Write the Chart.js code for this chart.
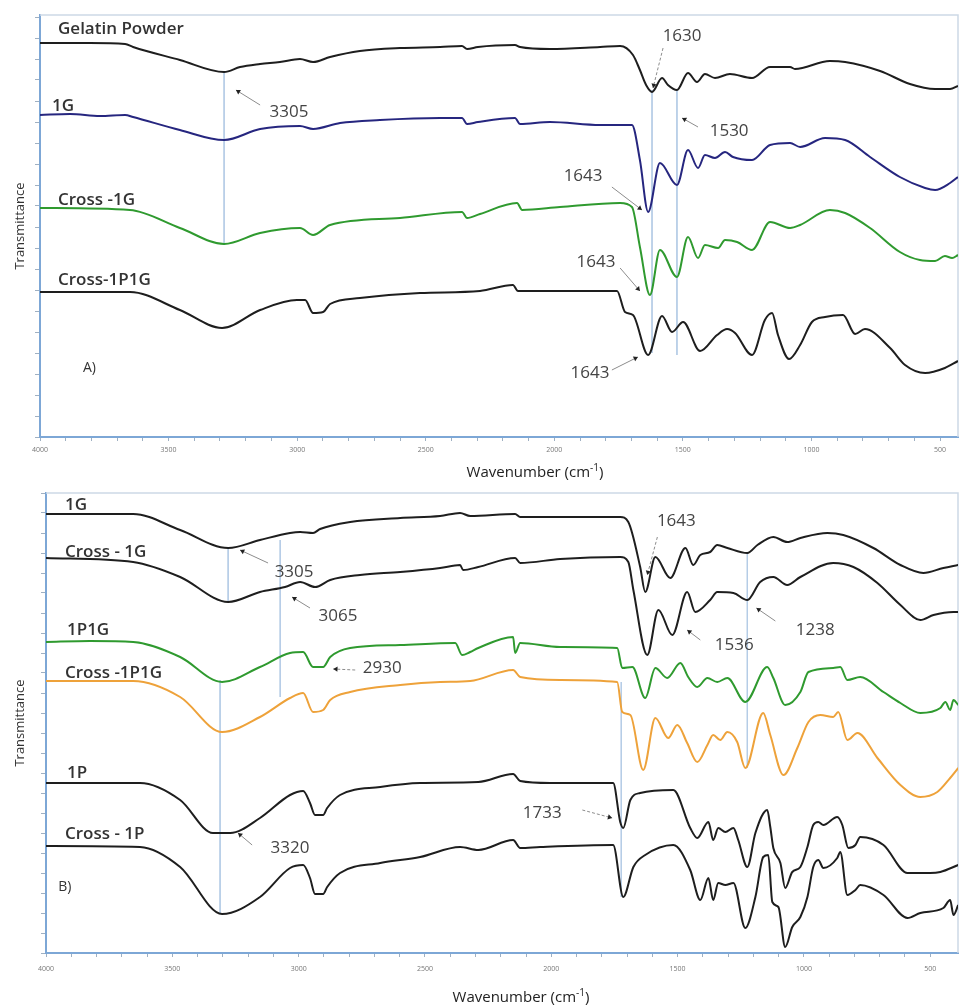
<!DOCTYPE html>
<html>
<head>
<meta charset="utf-8">
<script src="https://cdn.jsdelivr.net/npm/chart.js@4.4.0/dist/chart.umd.min.js"></script>
<style>
  body { margin: 0; background: #fff; }
  .panel { position: absolute; left: 0; width: 960px; }
  #panelA { top: 0; height: 485px; }
  #panelB { top: 485px; height: 522px; }
</style>
</head>
<body>
<div class="panel" id="panelA"><canvas id="chartA" width="960" height="485"></canvas></div>
<div class="panel" id="panelB"><canvas id="chartB" width="960" height="522"></canvas></div>
<script>
// tick labels (cm-1)
const xTickLabels = [4000, 3500, 3000, 2500, 2000, 1500, 1000, 500];

// ---- panel A spectra (wavenumber, transmittance a.u.) ----
const aGelatinWn = [4000, 3806, 3669, 3638, 3456, 3284, 3222, 3144, 3067, 2989, 2938, 2872, 2756, 2600, 2444, 2359, 2339, 2297, 2153, 2133, 2017, 1822, 1744, 1694, 1667, 1643, 1620, 1581, 1558, 1523, 1480, 1445, 1414, 1375, 1317, 1231, 1161, 1083, 1064, 928, 869, 733, 617, 519, 461, 430];
const aGelatinT = [39.4, 39.4, 39.3, 39.0, 37.7, 36.5, 37.0, 37.3, 37.5, 37.8, 37.5, 38.0, 38.6, 38.9, 39.0, 39.1, 38.8, 39.0, 39.2, 39.0, 38.8, 39.0, 39.1, 38.2, 36.7, 35.2, 34.5, 35.9, 35.2, 34.7, 36.4, 35.5, 36.3, 35.9, 36.3, 35.9, 37.0, 37.0, 36.8, 37.6, 37.5, 36.6, 35.3, 34.8, 34.8, 35.1];

const a1GWn = [4000, 3883, 3767, 3669, 3638, 3456, 3284, 3144, 2989, 2938, 2833, 2678, 2444, 2359, 2339, 2297, 2153, 2133, 2017, 1822, 1698, 1667, 1635, 1589, 1523, 1480, 1441, 1414, 1375, 1336, 1305, 1231, 1161, 1083, 1044, 947, 869, 772, 656, 558, 519, 461, 430];
const a1GT = [32.2, 32.3, 32.1, 32.2, 32.0, 30.7, 29.7, 30.8, 31.1, 30.8, 31.4, 31.7, 31.9, 31.9, 31.3, 31.5, 31.9, 31.3, 31.5, 31.2, 31.2, 27.7, 22.5, 27.4, 25.2, 28.7, 26.9, 28.2, 27.9, 28.5, 28.0, 27.7, 29.2, 29.4, 29.0, 29.9, 29.7, 28.0, 26.0, 24.9, 24.7, 25.4, 26.0];

const aCross1GWn = [4000, 3650, 3456, 3284, 3144, 2989, 2938, 2872, 2600, 2359, 2339, 2289, 2145, 2125, 1978, 1744, 1698, 1667, 1628, 1589, 1523, 1480, 1441, 1414, 1363, 1336, 1289, 1231, 1161, 1083, 1044, 928, 869, 772, 656, 578, 519, 481, 453, 430];
const aCross1GT = [22.9, 22.7, 20.9, 19.3, 20.4, 20.9, 20.2, 21.2, 21.9, 22.5, 21.9, 22.3, 23.4, 22.7, 23.0, 23.4, 23.0, 19.0, 14.2, 18.7, 16.0, 20.0, 17.9, 19.2, 18.9, 19.7, 19.5, 18.7, 21.5, 20.9, 21.2, 22.7, 22.4, 20.9, 18.5, 17.7, 17.6, 18.1, 17.9, 18.2];

const aCross1P1GWn = [4000, 3650, 3456, 3292, 3144, 3001, 2969, 2938, 2899, 2872, 2756, 2522, 2289, 2161, 2141, 2017, 1756, 1725, 1694, 1635, 1581, 1542, 1499, 1433, 1367, 1328, 1297, 1231, 1181, 1153, 1130, 1087, 1044, 998, 947, 877, 830, 792, 694, 636, 558, 481, 430];
const aCross1P1GT = [14.5, 14.5, 12.7, 10.9, 12.7, 13.7, 13.7, 12.4, 12.5, 13.3, 13.9, 14.4, 14.6, 15.2, 14.6, 14.6, 14.6, 12.5, 12.2, 8.2, 12.1, 10.5, 11.5, 8.6, 10.2, 10.8, 10.4, 8.2, 11.7, 12.4, 10.2, 7.8, 9.2, 11.5, 12.0, 12.2, 10.3, 10.8, 8.9, 7.2, 6.4, 6.9, 7.6];

// panel A marker lines
const guideAWn = [3284, 1620, 1523];
const guideATop = [36.5, 34.7, 34.7];
const guideABottom = [19.2, 8.4, 8.2];

// ---- panel B spectra ----
const b1GWn = [4000, 3826, 3655, 3469, 3279, 3153, 3034, 2994, 2943, 2915, 2796, 2598, 2440, 2361, 2321, 2143, 2123, 1965, 1727, 1695, 1648, 1628, 1588, 1529, 1469, 1438, 1410, 1371, 1343, 1303, 1224, 1184, 1121, 1066, 1014, 907, 844, 725, 618, 527, 448, 389];
const b1GT = [43.9, 43.9, 43.9, 42.3, 40.5, 41.3, 42.0, 42.1, 42.0, 42.4, 43.1, 43.5, 43.7, 44.0, 43.7, 43.9, 43.6, 43.6, 43.6, 43.1, 38.6, 36.1, 39.6, 37.5, 40.5, 38.8, 39.8, 40.1, 40.8, 40.5, 40.0, 40.8, 41.6, 41.1, 41.5, 42.0, 41.8, 40.5, 38.8, 38.0, 38.5, 38.8];

const bCross1GWn = [4000, 3655, 3469, 3279, 3153, 3054, 2994, 2935, 2875, 2757, 2598, 2440, 2361, 2349, 2289, 2143, 2123, 1965, 1727, 1695, 1675, 1620, 1576, 1521, 1462, 1430, 1371, 1343, 1279, 1224, 1173, 1121, 1066, 1014, 884, 804, 709, 618, 539, 487, 408, 389];
const bCross1GT = [39.5, 39.1, 37.6, 35.1, 36.1, 36.6, 37.1, 36.6, 37.3, 37.8, 38.1, 38.5, 38.8, 38.3, 38.6, 39.5, 39.0, 39.4, 39.6, 39.1, 36.3, 29.8, 34.3, 31.8, 36.1, 34.1, 35.3, 36.1, 36.0, 35.3, 37.1, 37.6, 36.8, 37.6, 39.0, 38.6, 37.0, 34.8, 33.3, 33.8, 34.1, 34.1];

const b1P1GWn = [4000, 3826, 3655, 3469, 3303, 3153, 3034, 2982, 2943, 2903, 2875, 2796, 2598, 2380, 2353, 2321, 2289, 2151, 2143, 2123, 1965, 1739, 1719, 1679, 1628, 1588, 1541, 1489, 1458, 1422, 1382, 1343, 1303, 1232, 1145, 1121, 1074, 1014, 982, 884, 856, 828, 777, 685, 618, 539, 460, 440, 421, 408, 389];
const b1P1GT = [31.1, 31.2, 31.1, 29.6, 27.1, 28.6, 30.0, 30.1, 28.6, 28.6, 29.6, 30.5, 30.8, 31.0, 29.8, 30.1, 30.5, 31.6, 30.0, 31.0, 30.6, 30.5, 28.5, 28.6, 25.5, 28.5, 27.5, 29.0, 27.6, 26.6, 27.5, 27.1, 27.5, 25.1, 28.6, 27.5, 24.8, 26.1, 28.1, 28.5, 28.6, 27.3, 27.6, 26.1, 25.0, 24.0, 24.5, 25.1, 24.3, 25.3, 24.8];

const bCross1P1GWn = [4000, 3655, 3469, 3303, 3153, 3034, 2982, 2943, 2903, 2875, 2796, 2598, 2440, 2321, 2151, 2123, 1965, 1739, 1719, 1687, 1636, 1588, 1537, 1501, 1462, 1422, 1382, 1359, 1331, 1303, 1264, 1232, 1161, 1133, 1081, 1026, 982, 935, 884, 864, 828, 788, 709, 618, 539, 472, 421, 389];
const bCross1P1GT = [27.2, 27.2, 25.6, 22.1, 23.6, 25.5, 26.0, 24.1, 24.3, 25.3, 26.1, 26.8, 27.1, 27.2, 28.3, 27.6, 27.3, 27.1, 24.1, 23.8, 18.3, 23.5, 21.5, 22.8, 21.0, 19.1, 20.8, 21.8, 21.3, 22.1, 21.1, 18.5, 24.0, 21.8, 17.8, 20.5, 23.1, 23.8, 23.6, 24.1, 21.3, 22.0, 19.5, 16.8, 15.6, 16.1, 17.5, 18.5];

const b1PWn = [4000, 3628, 3469, 3339, 3271, 3153, 3034, 2982, 2955, 2935, 2903, 2887, 2836, 2677, 2519, 2289, 2151, 2123, 2004, 1755, 1727, 1715, 1687, 1648, 1517, 1450, 1422, 1378, 1359, 1339, 1311, 1279, 1260, 1224, 1192, 1145, 1133, 1121, 1093, 1074, 1046, 1014, 986, 963, 943, 923, 868, 848, 824, 796, 777, 685, 590, 500, 460, 389];
const b1PT = [17.0, 17.0, 15.3, 12.0, 12.0, 13.5, 15.8, 16.2, 15.0, 13.8, 13.8, 14.5, 15.8, 16.6, 17.0, 17.1, 17.9, 17.2, 17.0, 17.0, 13.1, 12.5, 15.3, 16.0, 16.3, 12.5, 11.5, 13.1, 11.3, 12.5, 12.1, 12.5, 11.3, 8.6, 12.0, 14.3, 12.6, 10.5, 9.0, 6.5, 8.1, 8.6, 10.6, 12.8, 13.1, 12.8, 13.6, 12.8, 10.5, 10.8, 11.6, 10.8, 8.0, 8.0, 8.1, 8.8];

const bCross1PWn = [4000, 3628, 3469, 3303, 3153, 3034, 2982, 2955, 2935, 2903, 2887, 2836, 2677, 2519, 2361, 2289, 2151, 2123, 2044, 1755, 1715, 1675, 1628, 1517, 1450, 1410, 1378, 1359, 1339, 1311, 1279, 1232, 1192, 1161, 1141, 1125, 1101, 1074, 1046, 1014, 986, 963, 943, 923, 868, 856, 828, 796, 777, 685, 590, 539, 448, 421, 408, 389];
const bCross1PT = [10.7, 10.6, 8.6, 3.9, 5.6, 8.5, 8.8, 7.5, 5.9, 5.9, 6.6, 8.0, 9.0, 9.6, 10.6, 10.3, 11.3, 10.5, 10.6, 10.8, 5.6, 8.6, 9.8, 10.8, 8.3, 5.3, 7.5, 5.3, 7.0, 6.8, 7.0, 2.5, 5.6, 9.6, 9.8, 5.1, 4.6, 0.6, 2.6, 3.6, 5.6, 8.6, 9.3, 8.5, 9.5, 10.1, 5.8, 6.3, 6.8, 5.8, 3.5, 4.0, 4.5, 5.3, 3.8, 4.8];

// panel B marker lines
const guideBWn = [3279, 3311, 3073, 1723, 1224];
const guideBTop = [40.5, 27.3, 41.3, 27.1, 40.0];
const guideBBottom = [35.1, 4.0, 25.6, 5.6, 18.5];

// ---- text on the plots: [text, wavenumber, value] ----
const namesA = [['Gelatin Powder', 3930, 40.8], ['1G', 3953, 33.1], ['Cross -1G', 3930, 23.7], ['Cross-1P1G', 3930, 15.7]];
const peaksA = [['3305', 3032, 32.5], ['1630', 1503, 40.1], ['1530', 1320, 30.6], ['1643', 1888, 26.1], ['1643', 1838, 17.5], ['1643', 1861, 6.4]];
const arrowsA = [[3144, 33.2, 3238, 34.7, false], [1577, 38.9, 1616, 34.9, true], [1441, 31.0, 1503, 31.9, false],
                 [1776, 25.0, 1659, 22.7, false], [1744, 16.9, 1667, 14.6, false], [1776, 6.7, 1675, 8.0, false]];

const namesB = [['1G', 3925, 44.8], ['Cross - 1G', 3925, 40.1], ['1P1G', 3917, 32.3], ['Cross -1P1G', 3925, 28.0], ['1P', 3917, 18.0], ['Cross - 1P', 3925, 11.9]];
const peaksB = [['3305', 3018, 38.1], ['3065', 2844, 33.7], ['2930', 2669, 28.5], ['1643', 1505, 43.2], ['1536', 1276, 30.8],
                ['1238', 955, 32.3], ['3320', 3034, 10.5], ['1733', 2036, 14.0]];
const arrowsB = [[3121, 39.0, 3232, 40.3, false], [2955, 34.5, 3026, 35.6, false], [2776, 28.3, 2863, 28.4, true], [1580, 41.6, 1620, 37.8, true],
                 [1410, 31.3, 1462, 32.3, false], [1113, 33.2, 1188, 34.5, false], [3184, 10.8, 3240, 12.0, false], [1877, 14.3, 1759, 13.5, true]];

const FONT = "'Open Sans', 'DejaVu Sans', sans-serif";
const BLACK = '#1e1e1e';
const NAVY = '#26267f';
const GREEN = '#2f9a2f';
const ORANGE = '#eea23a';
const AXIS_BLUE = '#7da7d6';
const GUIDE_BLUE = '#b5cce6';

const xMinorTicks = [];
for (let v = 4000; v >= 500; v -= 100) xMinorTicks.push(v);

const trace = (label, wn, t, color) => ({
    label,
    data: wn.map((x, i) => ({ x, y: t[i] })),
    borderColor: color,
    borderWidth: 2,
    pointRadius: 0,
    cubicInterpolationMode: 'monotone',
    fill: false
});

const guides = (wn, top, bottom) => wn.map((x, i) => ({
    label: 'guide',
    data: [{ x, y: top[i] }, { x, y: bottom[i] }],
    borderColor: GUIDE_BLUE,
    borderWidth: 1,
    pointRadius: 0,
    fill: false
}));

const drawArrow = (ctx, x1, y1, x2, y2, dashed) => {
    ctx.save();
    ctx.strokeStyle = '#8c8c8c';
    ctx.lineWidth = 1;
    ctx.setLineDash(dashed ? [3, 2] : []);
    ctx.beginPath();
    ctx.moveTo(x1, y1);
    ctx.lineTo(x2, y2);
    ctx.stroke();
    const a = Math.atan2(y2 - y1, x2 - x1);
    ctx.setLineDash([]);
    ctx.fillStyle = '#222';
    ctx.beginPath();
    ctx.moveTo(x2, y2);
    ctx.lineTo(x2 - 5 * Math.cos(a - 0.55), y2 - 5 * Math.sin(a - 0.55));
    ctx.lineTo(x2 - 5 * Math.cos(a + 0.55), y2 - 5 * Math.sin(a + 0.55));
    ctx.closePath();
    ctx.fill();
    ctx.restore();
};

const notesPlugin = {
    id: 'notes',
    beforeDatasetsDraw(chart) {
        const { ctx, chartArea: c } = chart;
        ctx.save();
        ctx.strokeStyle = '#cdd9e6';
        ctx.lineWidth = 1.5;
        ctx.beginPath();
        ctx.moveTo(c.left, c.top);
        ctx.lineTo(c.right, c.top);
        ctx.lineTo(c.right, c.bottom);
        ctx.stroke();
        ctx.restore();
    },
    afterDraw(chart, args, opts) {
        const { ctx, chartArea: c, scales: { x, y } } = chart;
        ctx.save();
        ctx.textBaseline = 'middle';

        ctx.fillStyle = '#333';
        ctx.font = `600 17px ${FONT}`;
        ctx.textAlign = 'left';
        opts.names.forEach(([t, wn, v]) => ctx.fillText(t, x.getPixelForValue(wn), y.getPixelForValue(v)));

        ctx.font = `14px ${FONT}`;
        ctx.fillText(opts.tag[0], x.getPixelForValue(opts.tag[1]), y.getPixelForValue(opts.tag[2]));

        ctx.fillStyle = '#444';
        ctx.font = `17px ${FONT}`;
        ctx.textAlign = 'center';
        opts.peaks.forEach(([t, wn, v]) => ctx.fillText(t, x.getPixelForValue(wn), y.getPixelForValue(v)));

        opts.arrows.forEach(([w1, v1, w2, v2, dashed]) =>
            drawArrow(ctx, x.getPixelForValue(w1), y.getPixelForValue(v1), x.getPixelForValue(w2), y.getPixelForValue(v2), dashed));

        // x axis title with superscript
        const tx = c.left + opts.titleDx;
        const ty = c.bottom + opts.titleDy;
        ctx.fillStyle = '#222';
        ctx.textAlign = 'left';
        ctx.font = `15px ${FONT}`;
        const main = 'Wavenumber (cm';
        const sup = '-1';
        const wMain = ctx.measureText(main).width;
        ctx.font = `10px ${FONT}`;
        const wSup = ctx.measureText(sup).width;
        ctx.font = `15px ${FONT}`;
        const wEnd = ctx.measureText(')').width;
        const start = tx - (wMain + wSup + wEnd) / 2;
        ctx.fillText(main, start, ty);
        ctx.font = `10px ${FONT}`;
        ctx.fillText(sup, start + wMain, ty - 5);
        ctx.font = `15px ${FONT}`;
        ctx.fillText(')', start + wMain + wSup, ty);
        ctx.restore();
    }
};

const makeChart = (id, cfg) => new Chart(document.getElementById(id), {
    type: 'line',
    data: { datasets: cfg.datasets },
    options: {
        responsive: false,
        animation: false,
        layout: { padding: cfg.padding },
        plugins: {
            legend: { display: false },
            tooltip: { enabled: false },
            notes: cfg.notes
        },
        scales: {
            x: {
                type: 'linear',
                reverse: true,
                min: cfg.xMin,
                max: 4000,
                afterFit: (s) => { s.height = cfg.xHeight; },
                afterBuildTicks: (s) => { s.ticks = xMinorTicks.map(v => ({ value: v })); },
                ticks: {
                    autoSkip: false,
                    maxRotation: 0,
                    padding: cfg.tickPad,
                    color: '#777',
                    font: { family: FONT, size: 7 },
                    callback: (v) => (xTickLabels.includes(v) ? String(v) : '')
                },
                grid: { drawOnChartArea: false, tickLength: 4, tickColor: '#9fb0c2' },
                border: { color: AXIS_BLUE, width: 2 }
            },
            y: {
                min: 0,
                max: cfg.yMax,
                afterFit: (s) => { s.width = cfg.yWidth; },
                afterBuildTicks: (s) => { s.ticks = cfg.yTicks.map(v => ({ value: v })); },
                ticks: { display: false },
                grid: { drawOnChartArea: false, tickLength: 5, tickColor: '#9fb0c2' },
                border: { color: AXIS_BLUE, width: 2 },
                title: {
                    display: true,
                    text: 'Transmittance',
                    color: '#333',
                    font: { family: FONT, size: 13 },
                    padding: { top: 12, bottom: 0 }
                }
            }
        }
    },
    plugins: [notesPlugin]
});

const yTicksA = [];
for (let i = 0; i <= 20; i++) yTicksA.push(+(i * 2.1).toFixed(1));
const yTicksB = [];
for (let i = 0; i <= 23; i++) yTicksB.push(i * 2);

makeChart('chartA', {
    datasets: [
        trace('Gelatin Powder', aGelatinWn, aGelatinT, BLACK),
        trace('1G', a1GWn, a1GT, NAVY),
        trace('Cross -1G', aCross1GWn, aCross1GT, GREEN),
        trace('Cross-1P1G', aCross1P1GWn, aCross1P1GT, BLACK),
        ...guides(guideAWn, guideATop, guideABottom)
    ],
    padding: { top: 15, right: 2, left: 0, bottom: 0 },
    xMin: 430,
    xHeight: 48,
    tickPad: 5,
    yMax: 42.2,
    yWidth: 40,
    yTicks: yTicksA,
    notes: { names: namesA, tag: ['A)', 3833, 6.9], peaks: peaksA, arrows: arrowsA, titleDx: 495, titleDy: 36 }
});

makeChart('chartB', {
    datasets: [
        trace('1G', b1GWn, b1GT, BLACK),
        trace('Cross - 1G', bCross1GWn, bCross1GT, BLACK),
        trace('1P1G', b1P1GWn, b1P1GT, GREEN),
        trace('Cross -1P1G', bCross1P1GWn, bCross1P1GT, ORANGE),
        trace('1P', b1PWn, b1PT, BLACK),
        trace('Cross - 1P', bCross1PWn, bCross1PT, BLACK),
        ...guides(guideBWn, guideBTop, guideBBottom)
    ],
    padding: { top: 8, right: 2, left: 0, bottom: 0 },
    xMin: 390,
    xHeight: 54,
    tickPad: 8,
    yMax: 46,
    yWidth: 46,
    yTicks: yTicksB,
    notes: { names: namesB, tag: ['B)', 3952, 6.6], peaks: peaksB, arrows: arrowsB, titleDx: 475, titleDy: 45 }
});
</script>
</body>
</html>
